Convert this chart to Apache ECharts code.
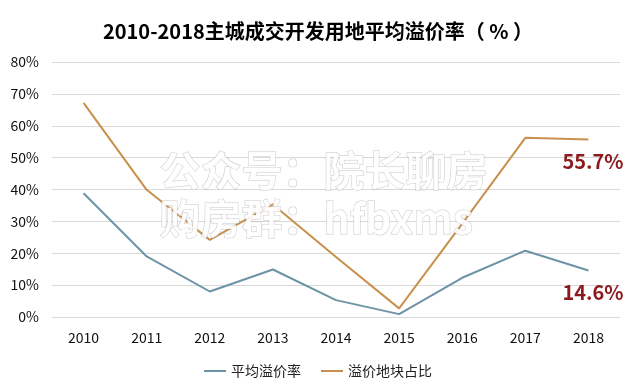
<!DOCTYPE html>
<html><head><meta charset="utf-8">
<script src="https://cdn.jsdelivr.net/npm/echarts@6/dist/echarts.min.js"></script>
<style>html,body{margin:0;padding:0;background:#fff}#c{width:636px;height:391px}</style>
</head><body><div id="c"></div>
<script>
const years = ['2010','2011','2012','2013','2014','2015','2016','2017','2018'];
const avgPremium = [38.8, 19.0, 8.0, 14.9, 5.3, 0.9, 12.3, 20.8, 14.6];
const premiumShare = [67.2, 39.9, 24.2, 35.3, 18.8, 2.7, 29.3, 56.2, 55.7];
const seriesNames = ['平均溢价率', '溢价地块占比'];
const yTicks = [0, 10, 20, 30, 40, 50, 60, 70, 80];

const chart = echarts.init(document.getElementById('c'));
const font = '"Microsoft YaHei","Noto Sans CJK SC",sans-serif';
const wm = {fontSize: 41, fontWeight: 'bold', fontFamily: font, fill: 'rgba(255,255,255,0.9)',
  stroke: 'rgba(150,150,150,0.5)', lineWidth: 1,
  shadowColor: 'rgba(0,0,0,0.35)', shadowBlur: 4, shadowOffsetX: 2, shadowOffsetY: 2};
chart.setOption({
  animation: false,
  title: {text: '2010-2018主城成交开发用地平均溢价率（ % ）', left: 'center', top: 16,
    textStyle: {fontSize: 20, fontWeight: 'bold', color: '#000', fontFamily: font}},
  legend: {bottom: 8, itemWidth: 22, itemHeight: 2, itemGap: 20, icon: 'rect',
    textStyle: {fontSize: 14, color: '#222', fontFamily: font}, data: seriesNames},
  grid: {left: 52, right: 16, top: 62, bottom: 74},
  xAxis: {type: 'category', data: years, boundaryGap: true,
    axisLine: {show: false}, axisTick: {show: false},
    axisLabel: {fontSize: 14, color: '#111', margin: 14, fontFamily: font}},
  yAxis: {type: 'value', min: yTicks[0], max: yTicks[yTicks.length-1], interval: 10,
    axisLabel: {formatter: '{value}%', fontSize: 14, color: '#111', margin: 13, fontFamily: font},
    splitLine: {lineStyle: {color: '#d9d9d9'}}},
  graphic: [
    {type: 'text', left: 159, top: 149, style: Object.assign({text: '公众号：院长聊房'}, wm), z: 100},
    {type: 'text', left: 159, top: 197, style: Object.assign({text: '购房群：hfbxms'}, wm), z: 100}
  ],
  series: [
    {name: seriesNames[0], type: 'line', data: avgPremium, symbol: 'none',
      lineStyle: {color: '#6d93a6', width: 2}, itemStyle: {color: '#6d93a6'},
      endLabel: {show: true, formatter: '14.6%', offset: [-34, 22], fontSize: 20, fontWeight: 'bold', color: '#8b1a1f', fontFamily: font}},
    {name: seriesNames[1], type: 'line', data: premiumShare, symbol: 'none',
      lineStyle: {color: '#c8904c', width: 2}, itemStyle: {color: '#c8904c'},
      endLabel: {show: true, formatter: '55.7%', offset: [-34, 22], fontSize: 20, fontWeight: 'bold', color: '#8b1a1f', fontFamily: font}}
  ]
});
</script></body></html>
